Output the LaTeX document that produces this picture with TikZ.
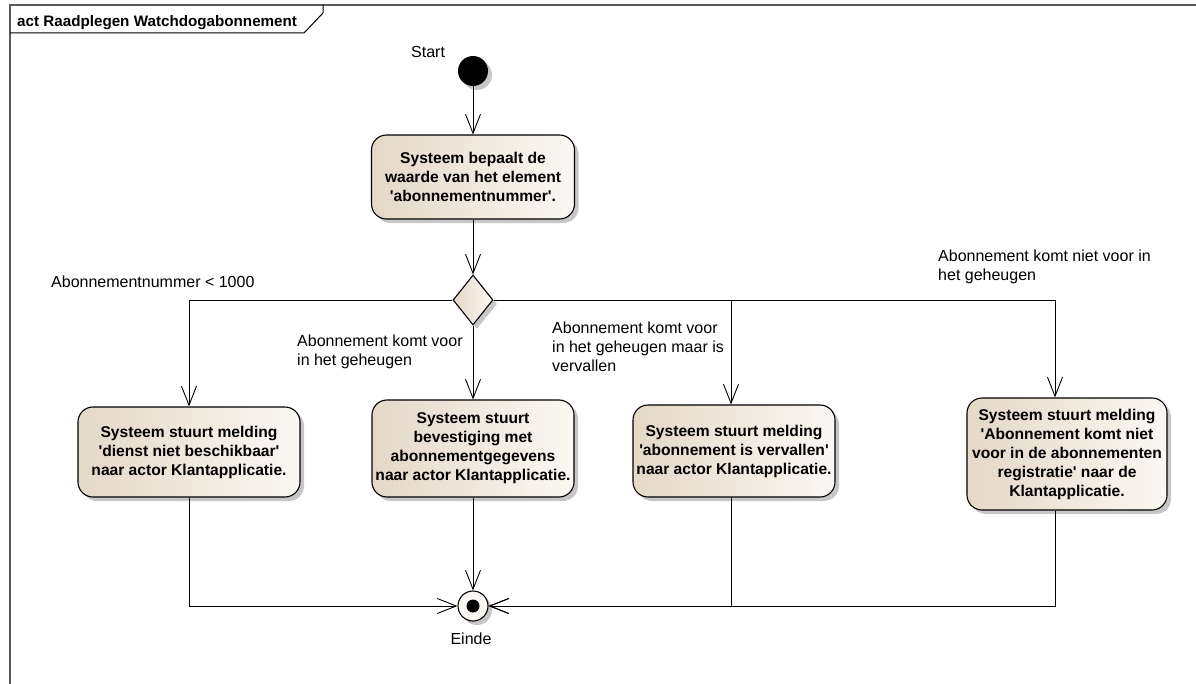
\documentclass[tikz,border=0pt]{standalone}
\usepackage{fontspec}
\setmainfont{Liberation Sans}[Ligatures=TeXOff]
\usetikzlibrary{arrows.meta,shapes.geometric,shadows,calc}
\definecolor{begL}{RGB}{228,216,198}
\definecolor{begR}{RGB}{251,248,243}
\definecolor{framec}{RGB}{90,90,90}
\newcommand\actfont{\fontsize{15.6bp}{19bp}\selectfont\bfseries}
\newcommand\lblfont{\fontsize{16bp}{19bp}\selectfont}
\begin{document}
\begin{tikzpicture}[x=1bp,y=-1bp,
  shad/.style={drop shadow={shadow xshift=4bp, shadow yshift=-4bp, fill=black, opacity=0.22}},
  act/.style={rectangle, rounded corners=15bp, draw=black, line width=1.1bp,
    left color=begL, right color=begR, shad, align=center, font=\actfont, inner sep=0pt},
  lbl/.style={font=\lblfont, align=left, inner sep=0pt},
  arr/.style={-{Straight Barb[length=19bp,width=15bp]}, line width=0.9bp},
  flow/.style={line width=0.9bp}]
\useasboundingbox (0,0) rectangle (1196,684);
\fill[white] (0,0) rectangle (1196,684);
% frame
\draw[framec, line width=1.2bp] (10,700) -- (10,5) -- (1210,5);
\draw[black, line width=1bp] (10,33) -- (304,33) -- (323,13) -- (323,5);
\node[anchor=base west, inner sep=0pt, font=\fontsize{15.2bp}{19bp}\selectfont\bfseries] (title) at (17,27) {act Raadplegen Watchdogabonnement};
% nodes
\node[circle, fill=black, minimum size=30bp, inner sep=0pt, shad] (start) at (473,71) {};
\node[anchor=base west, lbl] (startlbl) at (411,58) {Start};
\node[act, minimum width=203bp, minimum height=84bp] (b1) at (473,177) {Systeem bepaalt de\\waarde van het element\\'abonnementnummer'.};
\node[diamond, draw=black, line width=1.1bp, left color=begL, right color=begR, shad, minimum width=40bp, minimum height=50bp, inner sep=0pt] (dec) at (473,300) {};
\node[act, minimum width=222bp, minimum height=90bp] (bA) at (189,452) {Systeem stuurt melding\\'dienst niet beschikbaar'\\naar actor Klantapplicatie.};
\node[act, minimum width=202bp, minimum height=97bp] (bB) at (473,448.5) {Systeem stuurt\\bevestiging met\\abonnementgegevens\\naar actor Klantapplicatie.};
\node[act, minimum width=202bp, minimum height=92bp] (bC) at (734,451) {Systeem stuurt melding\\'abonnement is vervallen'\\naar actor Klantapplicatie.};
\node[act, minimum width=200bp, minimum height=112bp] (bD) at (1067,454) {Systeem stuurt melding\\'Abonnement komt niet\\voor in de abonnementen\\registratie' naar de\\Klantapplicatie.};
\node[circle, draw=black, line width=1.1bp, fill=begR, minimum size=30bp, inner sep=0pt, shad,
  path picture={\fill[black] (path picture bounding box.center) circle (6.5bp);}] (fin) at (473,606) {};
\node[anchor=base, lbl] (finlbl) at (471,644) {Einde};
% guard labels
\node[anchor=base west, lbl] (g1) at (51,287) {Abonnementnummer < 1000};
\node[anchor=north west, lbl] (g2) at (297,335) {Abonnement komt voor\\in het geheugen};
\node[anchor=north west, lbl] (g3) at (552,322) {Abonnement komt voor\\in het geheugen maar is\\vervallen};
\node[anchor=north west, lbl] (g4) at (938,250) {Abonnement komt niet voor in\\het geheugen};
% connectors
\draw[arr] (start) -- (b1);
\draw[arr] (b1) -- (dec);
\draw[arr] (dec.west) -| (bA.north);
\draw[arr] (dec.south) -- (bB.north);
\draw[arr] (dec.east) -| ([xshift=-3bp]bC.north);
\draw[arr] (dec.east) -| ([xshift=-12bp]bD.north);
\draw[arr] (bA.south) |- (fin.west);
\draw[arr] (bB.south) -- (fin.north);
\draw[arr] ([xshift=-3bp]bC.south) |- (fin.east);
\draw[arr] ([xshift=-12bp]bD.south) |- (fin.east);
\end{tikzpicture}
\end{document}
